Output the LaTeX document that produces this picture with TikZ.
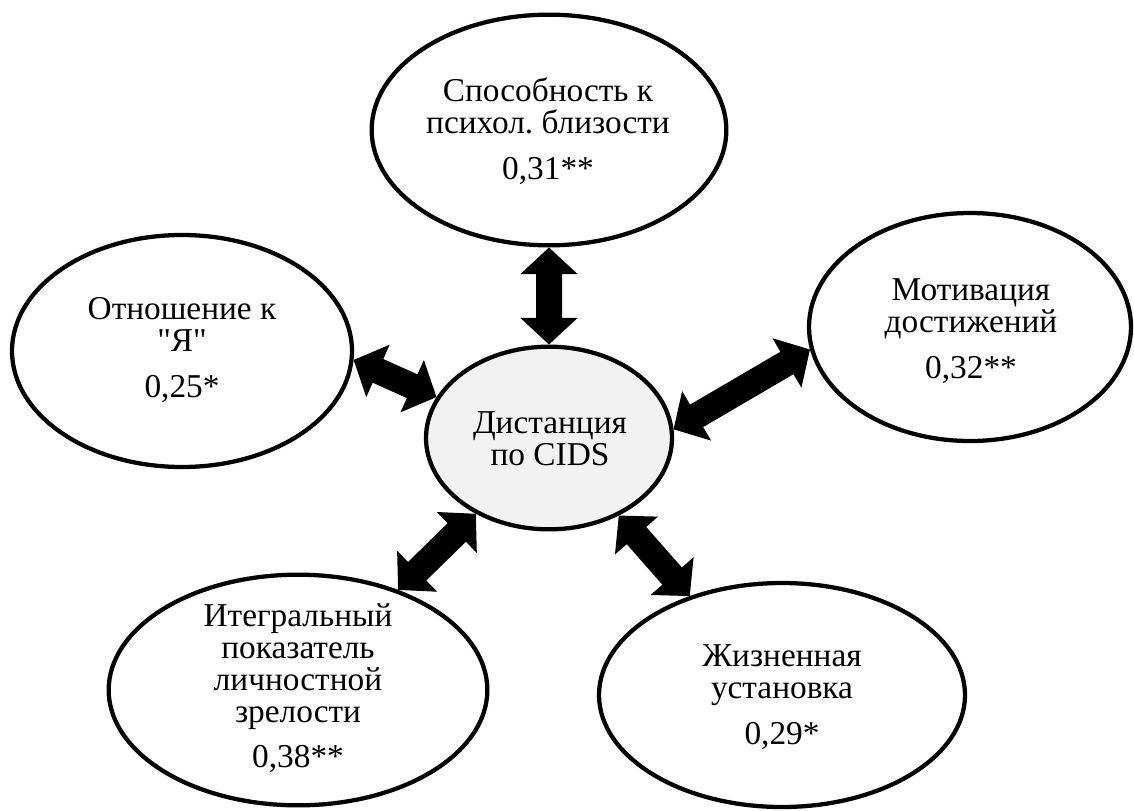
\documentclass[tikz,border=0pt]{standalone}
\usepackage{fontspec}
\setmainfont{Liberation Serif}[Ligatures=TeXOff]
\usetikzlibrary{shapes.geometric,calc}
\newcommand\arHL{20pt}
\newcommand\arHW{21.5pt}
\newcommand\arSW{9.75pt}
\newcommand\biarrow[2]{%
  \fill[black] (#1)
    -- ($(#1)!\arHL!(#2)!\arHW!90:(#2)$)
    -- ($(#1)!\arHL!(#2)!\arSW!90:(#2)$)
    -- ($(#2)!\arHL!(#1)!\arSW!-90:(#1)$)
    -- ($(#2)!\arHL!(#1)!\arHW!-90:(#1)$)
    -- (#2)
    -- ($(#2)!\arHL!(#1)!\arHW!90:(#1)$)
    -- ($(#2)!\arHL!(#1)!\arSW!90:(#1)$)
    -- ($(#1)!\arHL!(#2)!\arSW!-90:(#2)$)
    -- ($(#1)!\arHL!(#2)!\arHW!-90:(#2)$)
    -- cycle;}
\tikzset{
  bubble/.style={ellipse, draw=black, line width=3.2pt, fill=white, inner sep=0pt},
  lbl/.style={align=center, inner sep=0pt, font=\fontsize{25}{24}\selectfont\frenchspacing}
}
\begin{document}
\begin{tikzpicture}[x=0.75pt,y=-0.75pt]
\useasboundingbox (0,0) rectangle (1134,810);
% ellipses
\node[bubble, minimum width=266pt, minimum height=173pt] (T) at (549,130) {};
\node[bubble, minimum width=255pt, minimum height=174pt] (L) at (182,351) {};
\node[bubble, minimum width=241.5pt, minimum height=171pt] (R) at (970,327) {};
\node[bubble, fill={rgb,255:red,242;green,242;blue,242}, minimum width=184.5pt, minimum height=137pt] (C) at (549,438) {};
\node[bubble, minimum width=284pt, minimum height=173pt] (BL) at (298,690) {};
\node[bubble, minimum width=274.5pt, minimum height=168pt] (BR) at (782,695) {};
% texts
\node[lbl] (tT) at (548,131) {Способность к\\психол. близости\\[10pt]0,31**};
\node[lbl] (tL) at (182,350) {Отношение к\\"Я"\\[10pt]0,25*};
\node[lbl] (tR) at (971,331) {Мотивация\\достижений\\[10pt]0,32**};
\node[lbl] (tC) at (550,439) {Дистанция\\по CIDS};
\node[lbl] (tBL) at (298,688) {Итегральный\\показатель\\личностной\\зрелости\\[10pt]0,38**};
\node[lbl] (tBR) at (782,697) {Жизненная\\установка\\[10pt]0,29*};
% arrows
\biarrow{T.south}{C.north}
\biarrow{L.-3}{C.160}
\biarrow{C.4}{R.188}
\biarrow{C.226}{BL.45}
\biarrow{C.-48}{BR.133}
\end{tikzpicture}
\end{document}
